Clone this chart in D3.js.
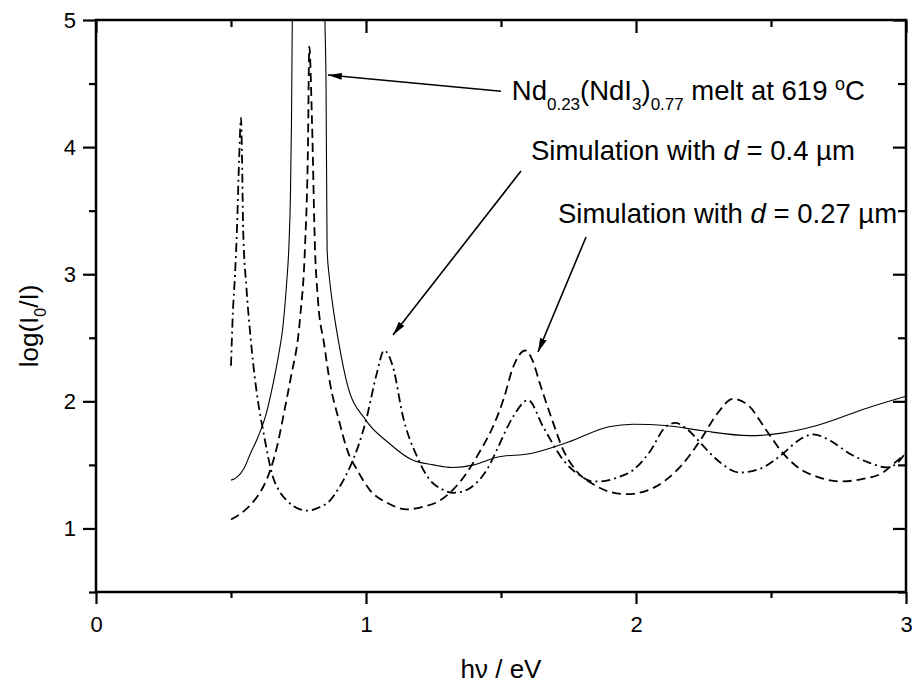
<!DOCTYPE html>
<html>
<head>
<meta charset="utf-8">
<script src="https://cdn.jsdelivr.net/npm/d3@7"></script>
<style>
  body { margin: 0; background: #fff; }
  text { font-family: Arial, "Liberation Sans", sans-serif; fill: #000; }
</style>
</head>
<body>
<div id="chart"></div>
<script>
// melt spectrum (solid)
const meltX = [0.5, 0.52, 0.55, 0.57, 0.6, 0.63, 0.656, 0.675, 0.693, 0.705, 0.715, 0.72, 0.724, 0.727, 0.73,
    0.845, 0.848, 0.852, 0.856, 0.864, 0.874, 0.9, 0.93, 1.0, 1.08, 1.17, 1.25, 1.32, 1.4, 1.485, 1.61, 1.75, 1.9,
    1.99, 2.11, 2.24, 2.42, 2.54, 2.67, 2.86, 3.0];
const meltY = [1.38, 1.40, 1.48, 1.58, 1.72, 1.90, 2.14, 2.35, 2.60, 2.90, 3.25, 3.60, 4.20, 5.00, 5.60,
    5.60, 5.00, 4.50, 3.19, 2.98, 2.80, 2.45, 2.14, 1.85, 1.68, 1.54, 1.50, 1.48, 1.50, 1.56, 1.59, 1.68, 1.80,
    1.82, 1.81, 1.77, 1.73, 1.75, 1.81, 1.95, 2.04];

// simulation d = 0.27 um (dashed)
const sim27X = [0.5, 0.55, 0.6, 0.62, 0.67, 0.7, 0.72, 0.756, 0.774, 0.785, 0.79, 0.8, 0.811, 0.822, 0.845,
    0.867, 0.9, 0.93, 0.97, 1.015, 1.08, 1.15, 1.21, 1.274, 1.32, 1.374, 1.42, 1.47, 1.51, 1.545, 1.59,
    1.615, 1.644, 1.69, 1.73, 1.78, 1.84, 1.9, 1.965, 2.03, 2.11, 2.17, 2.24, 2.3, 2.36, 2.42, 2.48, 2.545,
    2.6, 2.68, 2.755, 2.84, 2.915, 2.96, 3.0];
const sim27Y = [1.07, 1.14, 1.26, 1.33, 1.64, 1.95, 2.17, 2.66, 3.21, 4.0, 4.79, 4.2, 3.21, 2.80, 2.45,
    2.14, 1.85, 1.62, 1.45, 1.30, 1.20, 1.15, 1.17, 1.22, 1.30, 1.44, 1.60, 1.80, 2.02, 2.27, 2.40,
    2.33, 2.14, 1.85, 1.62, 1.45, 1.35, 1.29, 1.27, 1.29, 1.38, 1.50, 1.70, 1.90, 2.02, 1.96, 1.78, 1.59,
    1.48, 1.40, 1.37, 1.39, 1.44, 1.52, 1.59];

// simulation d = 0.4 um (dash-dot)
const sim40X = [0.5, 0.507, 0.515, 0.522, 0.53, 0.537, 0.541, 0.545, 0.557, 0.57, 0.582, 0.6, 0.619, 0.656,
    0.68, 0.707, 0.756, 0.785, 0.82, 0.867, 0.9, 0.94, 0.97, 1.0, 1.04, 1.067, 1.1, 1.137, 1.19, 1.237,
    1.28, 1.322, 1.37, 1.41, 1.45, 1.485, 1.545, 1.6, 1.656, 1.73, 1.79, 1.84, 1.867, 1.93, 1.99, 2.05,
    2.11, 2.145, 2.19, 2.24, 2.3, 2.385, 2.46, 2.545, 2.6, 2.656, 2.72, 2.79, 2.86, 2.93, 2.97, 3.0];
const sim40Y = [2.28, 2.70, 3.00, 3.35, 3.90, 4.23, 3.90, 3.35, 2.90, 2.56, 2.30, 2.00, 1.77, 1.40,
    1.29, 1.22, 1.15, 1.14, 1.16, 1.22, 1.32, 1.48, 1.64, 1.85, 2.22, 2.40, 2.27, 1.88, 1.56, 1.38,
    1.31, 1.28, 1.30, 1.36, 1.47, 1.62, 1.88, 2.01, 1.80, 1.54, 1.42, 1.37, 1.37, 1.40, 1.46, 1.60,
    1.80, 1.83, 1.78, 1.67, 1.54, 1.44, 1.47, 1.59, 1.69, 1.74, 1.69, 1.59, 1.52, 1.48, 1.52, 1.60];

const xMajor = [0, 1, 2, 3];
const xMinor = [0.5, 1.5, 2.5];
const yMajor = [1, 2, 3, 4, 5];
const yMinor = [0.5, 1.5, 2.5, 3.5, 4.5];

const width = 912, height = 683;
const plotLeft = 96, plotRight = 906, plotTop = 20, plotBottom = 592;

const svg = d3.select("#chart")
    .append("svg")
    .attr("width", width)
    .attr("height", height);

const xScale = d3.scaleLinear().domain([0, 3]).range([plotLeft, plotRight]);
const yScale = d3.scaleLinear().domain([0.5, 5]).range([plotBottom, plotTop]);

const defs = svg.append("defs");
defs.append("clipPath")
    .attr("id", "plot-clip")
    .append("rect")
    .attr("x", plotLeft)
    .attr("y", plotTop)
    .attr("width", plotRight - plotLeft)
    .attr("height", plotBottom - plotTop);

defs.append("marker")
    .attr("id", "head")
    .attr("markerUnits", "userSpaceOnUse")
    .attr("viewBox", "0 0 14 8")
    .attr("refX", 14)
    .attr("refY", 4)
    .attr("markerWidth", 14)
    .attr("markerHeight", 8)
    .attr("orient", "auto")
    .append("path")
    .attr("d", "M0,0.5 L14,4 L0,7.5 Z")
    .attr("fill", "#000");

// axes with major/minor ticks
function drawAxis(axisFn, scale, transform, major, minor, majorSize, minorSize, labels, pad) {
    const g = svg.append("g").attr("transform", transform);
    g.call(axisFn(scale)
        .tickValues(major)
        .tickSize(majorSize)
        .tickPadding(pad)
        .tickFormat(labels ? d3.format("d") : () => ""));
    g.select(".domain").remove();
    const m = svg.append("g").attr("transform", transform);
    m.call(axisFn(scale)
        .tickValues(minor)
        .tickSize(minorSize)
        .tickFormat(() => ""));
    m.select(".domain").remove();
    g.selectAll(".tick line").attr("stroke", "#000").attr("stroke-width", 2.2);
    m.selectAll(".tick line").attr("stroke", "#000").attr("stroke-width", 2.2);
    g.selectAll(".tick text")
        .attr("font-size", 22)
        .attr("fill", "#000")
        .attr("font-family", "Arial, 'Liberation Sans', sans-serif");
}

drawAxis(d3.axisBottom, xScale, `translate(0,${plotBottom})`, xMajor, xMinor, 12, 6, true, 12);
drawAxis(d3.axisTop, xScale, `translate(0,${plotTop})`, xMajor, xMinor, -13, -7, false, 0);
drawAxis(d3.axisLeft, yScale, `translate(${plotLeft},0)`, yMajor, yMinor, 13, 7, true, 7);
drawAxis(d3.axisRight, yScale, `translate(${plotRight},0)`, yMajor, yMinor, -13, -8, false, 0);

svg.append("rect")
    .attr("x", plotLeft)
    .attr("y", plotTop)
    .attr("width", plotRight - plotLeft)
    .attr("height", plotBottom - plotTop)
    .attr("fill", "none")
    .attr("stroke", "#000")
    .attr("stroke-width", 2.5);

// curves
const series = [
    { xs: meltX, ys: meltY, dash: null, w: 1.1 },
    { xs: sim27X, ys: sim27Y, dash: "9,5", w: 1.8 },
    { xs: sim40X, ys: sim40Y, dash: "9,4,2,4", w: 1.8 }
];

const line = d3.line()
    .x(d => xScale(d[0]))
    .y(d => yScale(d[1]))
    .curve(d3.curveMonotoneX);

const plot = svg.append("g").attr("clip-path", "url(#plot-clip)");
plot.selectAll("path")
    .data(series)
    .enter()
    .append("path")
    .attr("d", s => line(s.xs.map((x, i) => [x, s.ys[i]])))
    .attr("fill", "none")
    .attr("stroke", "#000")
    .attr("stroke-width", s => s.w)
    .attr("stroke-dasharray", s => s.dash);

// annotations
const arrows = [
    { from: [1.5, 4.44], to: [0.859, 4.567] },
    { from: [1.574, 3.812], to: [1.1, 2.522] },
    { from: [1.815, 3.293], to: [1.637, 2.388] }
];

svg.selectAll(".arrow")
    .data(arrows)
    .enter()
    .append("line")
    .attr("class", "arrow")
    .attr("x1", d => xScale(d.from[0]))
    .attr("y1", d => yScale(d.from[1]))
    .attr("x2", d => xScale(d.to[0]))
    .attr("y2", d => yScale(d.to[1]))
    .attr("stroke", "#000")
    .attr("stroke-width", 1.6)
    .attr("marker-end", "url(#head)");

const t1 = svg.append("text")
    .attr("x", xScale(1.54))
    .attr("y", yScale(4.371))
    .attr("font-size", 27.5);
t1.append("tspan").text("Nd");
t1.append("tspan").attr("font-size", 17).attr("dy", 10).text("0.23");
t1.append("tspan").attr("dy", -10).text("(NdI");
t1.append("tspan").attr("font-size", 17).attr("dy", 10).text("3");
t1.append("tspan").attr("dy", -10).text(")");
t1.append("tspan").attr("font-size", 17).attr("dy", 10).text("0.77");
t1.append("tspan").attr("dy", -10).text(" melt at 619 ");
t1.append("tspan").attr("font-size", 18).attr("dy", -10).text("o");
t1.append("tspan").attr("dy", 10).text("C");

const sims = [
    { x: 1.611, y: 3.90, d: "0.4" },
    { x: 1.711, y: 3.405, d: "0.27" }
];
sims.forEach(s => {
    const t = svg.append("text")
        .attr("x", xScale(s.x))
        .attr("y", yScale(s.y))
        .attr("font-size", 27.5);
    t.append("tspan").text("Simulation with ");
    t.append("tspan").attr("font-style", "italic").text("d");
    t.append("tspan").text(` = ${s.d} µm`);
});

// axis titles
svg.append("text")
    .attr("x", (plotLeft + plotRight) / 2)
    .attr("y", 678)
    .attr("text-anchor", "middle")
    .attr("font-size", 26)
    .text("hν / eV");

const yt = svg.append("text")
    .attr("transform", `translate(38,${(plotTop + plotBottom) / 2 + 20}) rotate(-90)`)
    .attr("text-anchor", "middle")
    .attr("font-size", 26);
yt.append("tspan").text("log(I");
yt.append("tspan").attr("font-size", 16).attr("dy", 8).text("0");
yt.append("tspan").attr("dy", -8).text("/I)");
</script>
</body>
</html>
